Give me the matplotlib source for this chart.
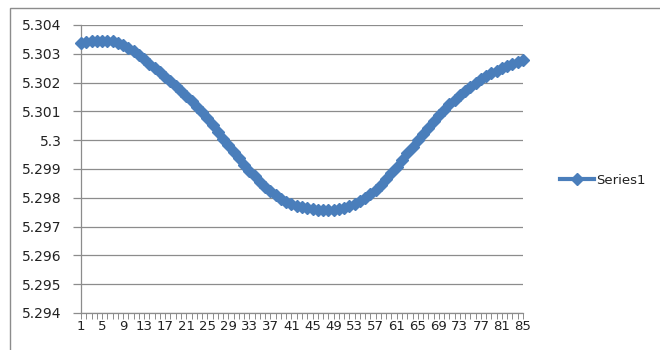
import matplotlib
matplotlib.use("Agg")
import matplotlib.pyplot as plt
from matplotlib.patches import Rectangle
import numpy as np

# values (one per category 1..85)
series1 = [
    5.30337, 5.30340, 5.30343, 5.30345, 5.30346, 5.30345, 5.30343, 5.30338, 5.30330, 5.30320,
    5.30308, 5.30295, 5.30281, 5.30265, 5.30251, 5.30236, 5.30220, 5.30204, 5.30188, 5.30171,
    5.30153, 5.30135, 5.30116, 5.30098, 5.30076, 5.30053, 5.30029, 5.30005, 5.29982, 5.29959,
    5.29937, 5.29915, 5.29894, 5.29874, 5.29856, 5.29839, 5.29823, 5.29809, 5.29797, 5.29787,
    5.29779, 5.29772, 5.29767, 5.29763, 5.29760, 5.29758, 5.29757, 5.29758, 5.29759, 5.29762,
    5.29766, 5.29771, 5.29779, 5.29788, 5.29799, 5.29812, 5.29827, 5.29845, 5.29865, 5.29886,
    5.29908, 5.29931, 5.29954, 5.29977, 5.30000, 5.30022, 5.30044, 5.30065, 5.30086, 5.30106,
    5.30124, 5.30141, 5.30157, 5.30172, 5.30186, 5.30199, 5.30211, 5.30222, 5.30232, 5.30241,
    5.30249, 5.30257, 5.30264, 5.30271, 5.30278,
]
categories = list(range(1, len(series1) + 1))
y_ticks = [5.294, 5.295, 5.296, 5.297, 5.298, 5.299, 5.3, 5.301, 5.302, 5.303, 5.304]
y_labels = ["5.294", "5.295", "5.296", "5.297", "5.298", "5.299", "5.3",
            "5.301", "5.302", "5.303", "5.304"]

plt.rcParams['font.family'] = ['DejaVu Sans']
grey = "#8c8c8c"
blue = "#4a7ebb"

fig = plt.figure(figsize=(6.6, 3.5), dpi=100)
W, H = 660.0, 350.0

# chart area border
fig.patches.append(Rectangle((10 / W, -0.1), 1.2, 1.1 - 8 / H, transform=fig.transFigure,
                             fill=False, edgecolor=grey, linewidth=1.0))

ax = fig.add_axes([81 / W, (H - 313) / H, 442 / W, 288 / H])
ax.plot(categories, series1, color=blue, linewidth=3, marker="D", markersize=6.5,
        markeredgecolor=blue, markerfacecolor=blue, label="Series1", clip_on=False, zorder=3)

ax.set_xlim(1, len(series1))
ax.set_ylim(5.294, 5.304)
ax.set_yticks(y_ticks)
ax.set_yticklabels(y_labels)
ax.set_xticks(categories)
ax.set_xticklabels([str(c) if (c - 1) % 4 == 0 else "" for c in categories])

ax.grid(axis="y", color=grey, linewidth=0.9)
ax.set_axisbelow(True)
for s in ["top", "right"]:
    ax.spines[s].set_visible(False)
for s in ["left", "bottom"]:
    ax.spines[s].set_color(grey)
    ax.spines[s].set_linewidth(0.9)

ax.tick_params(axis="y", length=6, width=0.9, color=grey, labelsize=10, pad=8, labelcolor="#222222")
ax.tick_params(axis="x", length=4, width=0.7, color=grey, labelsize=9.5, pad=1, labelcolor="#222222")

leg = fig.legend(loc="center left", bbox_to_anchor=(553 / W, (H - 180) / H), frameon=False,
                 fontsize=9.5, handlelength=2.6, handletextpad=0.2, borderpad=0)
for t in leg.get_texts():
    t.set_color("#222222")

fig.savefig("out.png", dpi=100)
